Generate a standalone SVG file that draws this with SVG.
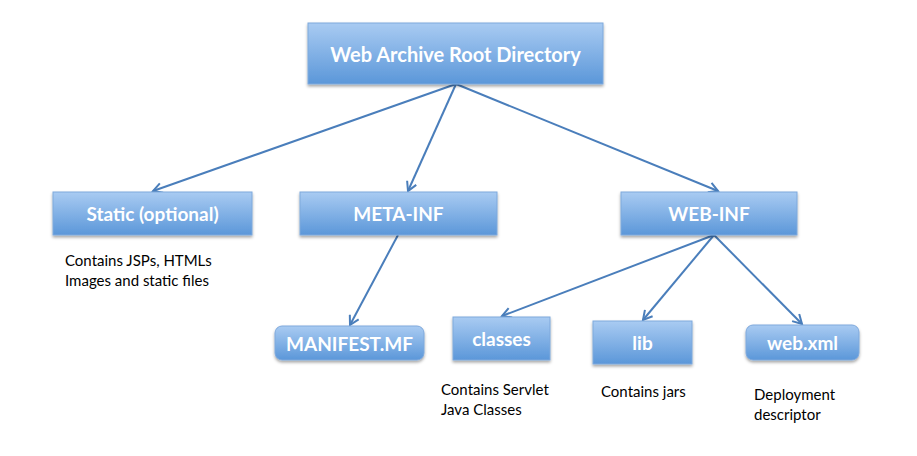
<svg xmlns="http://www.w3.org/2000/svg" width="917" height="456" viewBox="0 0 917 456">
<defs>
<linearGradient id="g" x1="0" y1="0" x2="0" y2="1">
<stop offset="0" stop-color="#a9cbf2"/>
<stop offset="1" stop-color="#5b97d9"/>
</linearGradient>
<filter id="sh" x="-10%" y="-20%" width="120%" height="150%">
<feDropShadow dx="0" dy="2" stdDeviation="1.5" flood-color="#000" flood-opacity="0.35"/>
</filter>
<marker id="ah" markerWidth="12" markerHeight="12" refX="10" refY="6" orient="auto" markerUnits="userSpaceOnUse">
<path d="M1,1 L10,6 L1,11" fill="none" stroke="#4a7ebb" stroke-width="2"/>
</marker>
<style>
.box{fill:url(#g);stroke:#7fa9dc;stroke-width:1;filter:url(#sh)}
.lbl{font-family:Lato,"Open Sans",sans-serif;font-weight:bold;fill:#fff;text-anchor:middle;dominant-baseline:central}
.desc{font-family:Lato,"Open Sans",sans-serif;fill:#000;font-size:15px}
.c{stroke:#4a7ebb;stroke-width:2;fill:none;marker-end:url(#ah)}
</style>
</defs>
<rect width="917" height="456" fill="#fff"/>
<g id="connectors">
<line class="c" x1="456" y1="84" x2="153" y2="191"/>
<line class="c" x1="456" y1="84" x2="408" y2="191"/>
<line class="c" x1="456" y1="84" x2="718" y2="191"/>
<line class="c" x1="398" y1="235" x2="350" y2="325"/>
<line class="c" x1="714" y1="235" x2="502" y2="316"/>
<line class="c" x1="714" y1="235" x2="643" y2="320"/>
<line class="c" x1="714" y1="235" x2="802" y2="324"/>
</g>
<g id="root">
<rect class="box" x="308" y="23" width="295" height="61"/>
<text class="lbl" x="455.5" y="54" font-size="20">Web Archive Root Directory</text>
</g>
<g id="static">
<rect class="box" x="53" y="192" width="199" height="43"/>
<text class="lbl" x="152.5" y="213.5" font-size="19">Static (optional)</text>
<text class="desc" x="65" y="266">Contains JSPs, HTMLs</text>
<text class="desc" x="65" y="286">Images and static files</text>
</g>
<g id="meta-inf">
<rect class="box" x="300" y="192" width="197" height="43"/>
<text class="lbl" x="398.5" y="213.5" font-size="19">META-INF</text>
</g>
<g id="web-inf">
<rect class="box" x="621" y="192" width="176" height="43"/>
<text class="lbl" x="709" y="213.5" font-size="19">WEB-INF</text>
</g>
<g id="manifest">
<rect class="box" x="275" y="326" width="149" height="34" rx="7"/>
<text class="lbl" x="349.5" y="343" font-size="19">MANIFEST.MF</text>
</g>
<g id="classes">
<rect class="box" x="453" y="317" width="97" height="43"/>
<text class="lbl" x="501.5" y="338.5" font-size="19">classes</text>
<text class="desc" x="441" y="395">Contains Servlet</text>
<text class="desc" x="441" y="415">Java Classes</text>
</g>
<g id="lib">
<rect class="box" x="593" y="321" width="99" height="43"/>
<text class="lbl" x="642.5" y="342.5" font-size="19">lib</text>
<text class="desc" x="601" y="397">Contains jars</text>
</g>
<g id="webxml">
<rect class="box" x="746" y="325" width="113" height="35" rx="7"/>
<text class="lbl" x="802.5" y="342.5" font-size="19">web.xml</text>
<text class="desc" x="754" y="400">Deployment</text>
<text class="desc" x="754" y="420">descriptor</text>
</g>
</svg>
